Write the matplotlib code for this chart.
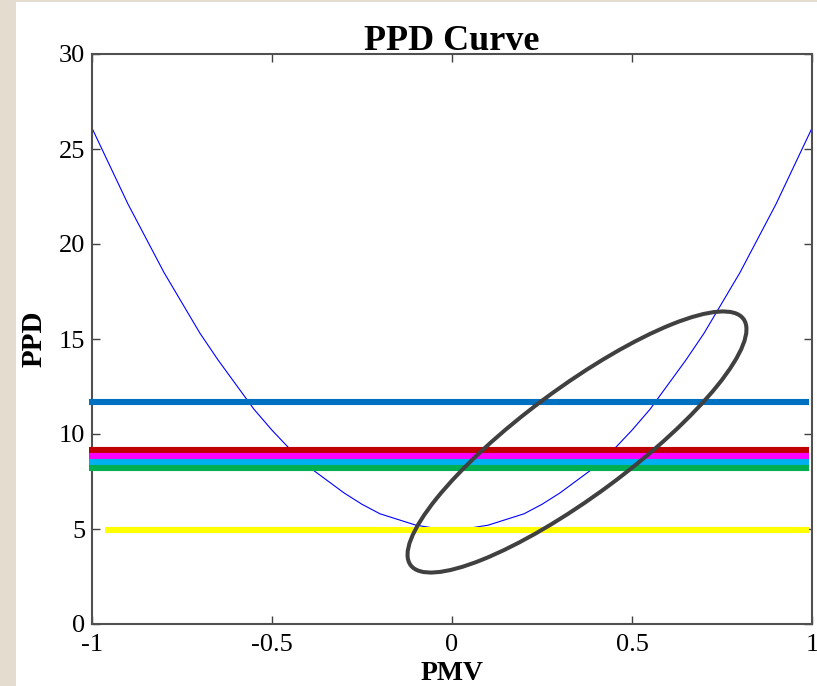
import numpy as np
import matplotlib
matplotlib.use("Agg")
import matplotlib.pyplot as plt
from matplotlib.patches import Rectangle, Ellipse

# PPD curve (PMV step 0.05)
pmv = [-1.0, -0.95, -0.9, -0.85, -0.8, -0.75, -0.7, -0.65, -0.6, -0.55, -0.5,
       -0.45, -0.4, -0.35, -0.3, -0.25, -0.2, -0.15, -0.1, -0.05, 0.0,
       0.05, 0.1, 0.15, 0.2, 0.25, 0.3, 0.35, 0.4, 0.45, 0.5,
       0.55, 0.6, 0.65, 0.7, 0.75, 0.8, 0.85, 0.9, 0.95, 1.0]
ppd = [26.1, 24.1, 22.1, 20.3, 18.5, 16.9, 15.3, 13.9, 12.6, 11.3, 10.2,
       9.2, 8.3, 7.6, 6.9, 6.3, 5.8, 5.5, 5.2, 5.05, 5.0,
       5.05, 5.2, 5.5, 5.8, 6.3, 6.9, 7.6, 8.3, 9.2, 10.2,
       11.3, 12.6, 13.9, 15.3, 16.9, 18.5, 20.3, 22.1, 24.1, 26.1]

# horizontal reference levels
level_values = [11.68, 9.17, 8.86, 8.54, 8.23, 4.95]
level_colors = ['#0070C0', '#C00000', '#FF00FF', '#00B0F0', '#00B050', '#FFFF00']
level_start = [-1.008, -1.008, -1.008, -1.008, -1.008, -0.964]
level_end = [0.992, 0.992, 0.992, 0.992, 0.992, 0.992]

xticks = [-1, -0.5, 0, 0.5, 1]
xticklabels = ['-1', '-0.5', '0', '0.5', '1']
yticks = [0, 5, 10, 15, 20, 25, 30]

plt.rcParams['font.family'] = 'Liberation Serif'
plt.rcParams['axes.unicode_minus'] = False

fig = plt.figure(figsize=(8.17, 6.86), dpi=100, facecolor='#e3dccf')
# white panel over the paper-like background
fig.patches.append(Rectangle((16 / 817, 0), 1, 684 / 686, transform=fig.transFigure,
                             facecolor='white', edgecolor='none', zorder=-10))

ax = fig.add_axes([92 / 817, 62 / 686, 720 / 817, 570 / 686])
ax.set_facecolor('white')
ax.plot(pmv, ppd, color='#0000FF', linewidth=0.8, zorder=2)

for v, c, x0, x1 in zip(level_values, level_colors, level_start, level_end):
    ax.plot([x0, x1], [v, v], color=c, linewidth=4.4, solid_capstyle='butt',
            clip_on=False, zorder=3)

ax.set_xlim(-1, 1)
ax.set_ylim(0, 30)
ax.set_xticks(xticks)
ax.set_xticklabels(xticklabels)
ax.set_yticks(yticks)
ax.tick_params(direction='in', length=6, width=1, colors='#404040',
               labelcolor='black', labelsize=19, top=True, right=True, pad=5)
ax.tick_params(axis='x', pad=7)
for s in ax.spines.values():
    s.set_color('#505050')
    s.set_linewidth(1.5)

ax.set_title('PPD Curve', fontsize=26, fontweight='bold', pad=3)
ax.set_xlabel('PMV', fontsize=20, fontweight='bold', labelpad=4)
ax.set_ylabel('PPD', fontsize=21, fontweight='bold', labelpad=8)

# highlight ellipse (annotation, in inches)
fig.patches.append(Ellipse((5.77, 2.44), 4.14, 1.08, angle=36.5,
                           transform=fig.dpi_scale_trans, facecolor='none',
                           edgecolor='#404040', linewidth=2.9, zorder=5))

fig.savefig('out.png', dpi=100, facecolor=fig.get_facecolor())
